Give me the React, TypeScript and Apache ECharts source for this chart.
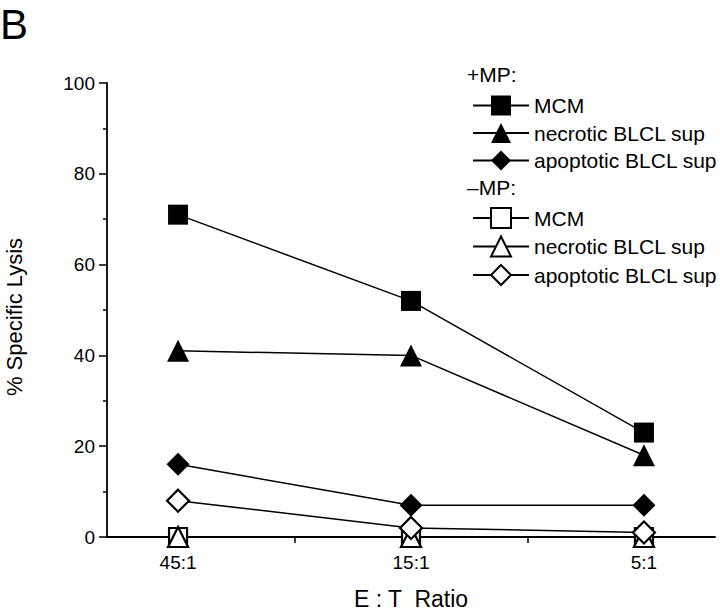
import React, { useEffect, useRef } from "react";
import * as echarts from "echarts";

const categories = ["45:1", "15:1", "5:1"];
const mcmPlus = [71, 52, 23];
const necroticPlus = [41, 40, 18];
const apoptoticPlus = [16, 7, 7];
const mcmMinus = [0, 0, 0];
const necroticMinus = [0, 0, 0];
const apoptoticMinus = [8, 2, 1];

const plusNames = ["+MP MCM", "+MP necrotic BLCL sup", "+MP apoptotic BLCL sup"];
const minusNames = ["–MP MCM", "–MP necrotic BLCL sup", "–MP apoptotic BLCL sup"];

const FONT = "'Liberation Sans', Arial, Helvetica, sans-serif";

function toPoints(vals: number[]) {
  return vals.map((v, i) => [i, v]);
}

export default function App() {
  const ref = useRef<HTMLDivElement>(null);
  useEffect(() => {
    if (!ref.current) return;
    const chart = echarts.init(ref.current, null, { renderer: "svg" });
    const mk = (name: string, vals: number[], symbol: string, size: number, open: boolean) => ({
      name,
      type: "line",
      data: toPoints(vals),
      symbol,
      symbolSize: size,
      lineStyle: { color: "#000", width: 1.5 },
      itemStyle: open
        ? { color: "#fff", borderColor: "#000", borderWidth: 2.2 }
        : { color: "#000", borderWidth: 0 },
      z: open ? 3 : 2,
    });
    const legendBase = {
      orient: "vertical",
      left: 467,
      itemWidth: 56,
      itemHeight: 25,
      itemGap: 6.5,
      formatter: (n: string) => n.replace(/^[+–]MP /, ""),
      textStyle: { fontSize: 21, color: "#000", fontFamily: FONT },
      selectedMode: false,
    };
    chart.setOption({
      animation: false,
      backgroundColor: "#fff",
      textStyle: { fontFamily: FONT },
      grid: { left: 107, right: 5, top: 83, bottom: 74, containLabel: false, outerBoundsMode: "none" },
      xAxis: {
        type: "value",
        min: -0.305,
        max: 2.305,
        name: "E : T  Ratio",
        nameLocation: "middle",
        nameGap: 51,
        nameTextStyle: { fontSize: 23, lineHeight: 21, color: "#000", fontFamily: FONT },
        axisLine: { onZero: false, lineStyle: { color: "#000", width: 1.8 } },
        axisTick: { show: true, customValues: [0, 0.5, 1, 1.5, 2], length: 6, lineStyle: { color: "#000", width: 1.5 } },
        axisLabel: {
          customValues: [0, 1, 2],
          formatter: (v: number) => categories[Math.round(v)] ?? "",
          fontSize: 19,
          color: "#000",
          margin: 16,
          fontFamily: FONT,
        },
        splitLine: { show: false },
      },
      yAxis: {
        type: "value",
        min: 0,
        max: 100,
        interval: 20,
        name: "% Specific Lysis",
        nameLocation: "middle",
        nameGap: 82,
        nameTextStyle: { fontSize: 22, color: "#000", fontFamily: FONT, padding: [0, 14, 0, 0] },
        axisLine: { show: true, onZero: false, lineStyle: { color: "#000", width: 1.8 } },
        axisTick: { show: true, length: 8, lineStyle: { color: "#000", width: 1.5 } },
        minorTick: { show: true, splitNumber: 2, length: 4, lineStyle: { color: "#000", width: 1.5 } },
        axisLabel: { fontSize: 19, color: "#000", margin: 12, fontFamily: FONT },
        splitLine: { show: false },
        minorSplitLine: { show: false },
      },
      legend: [
        { ...legendBase, data: plusNames, top: 90 },
        { ...legendBase, data: minusNames, top: 202 },
      ],
      graphic: [
        { type: "text", left: 0, top: 3, style: { text: "B", font: `42px ${FONT}`, fill: "#000" } },
        { type: "text", left: 467, top: 64, style: { text: "+MP:", font: `21px ${FONT}`, fill: "#000" } },
        { type: "text", left: 467, top: 177, style: { text: "–MP:", font: `21px ${FONT}`, fill: "#000" } },
      ],
      series: [
        mk(plusNames[0], mcmPlus, "rect", 20, false),
        mk(plusNames[1], necroticPlus, "triangle", 22, false),
        mk(plusNames[2], apoptoticPlus, "diamond", 23, false),
        mk(minusNames[0], mcmMinus, "rect", 18, true),
        mk(minusNames[1], necroticMinus, "triangle", 20, true),
        mk(minusNames[2], apoptoticMinus, "diamond", 22, true),
      ],
    });
    return () => chart.dispose();
  }, []);
  return <div ref={ref} style={{ width: 720, height: 611, position: "absolute", left: 0, top: 0 }} />;
}
